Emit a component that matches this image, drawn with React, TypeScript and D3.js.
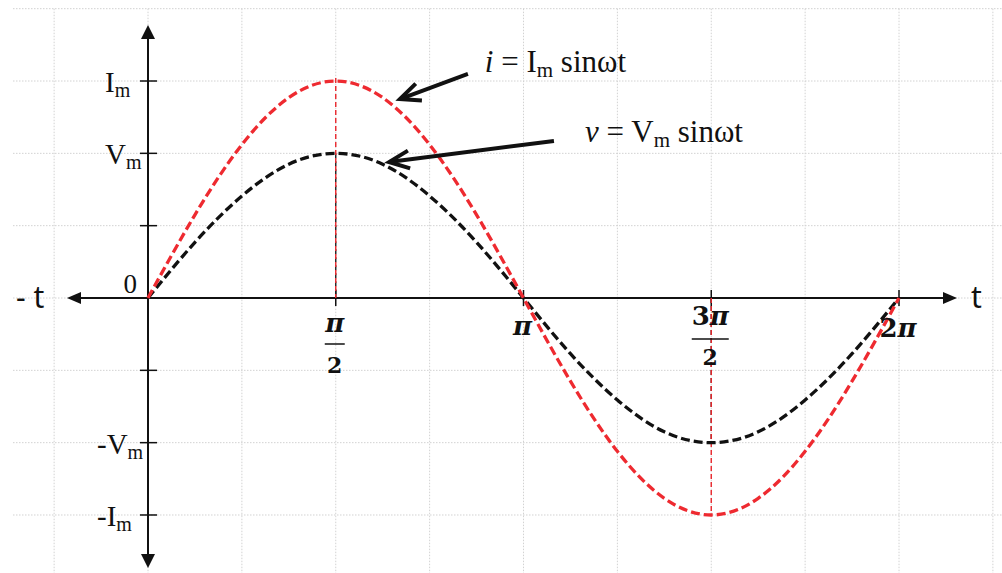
import React from "react";
import * as d3 from "d3";

// t in multiples of π
const T_SAMPLES = [0, 0.125, 0.25, 0.375, 0.5, 0.625, 0.75, 0.875, 1, 1.125, 1.25, 1.375, 1.5, 1.625, 1.75, 1.875, 2];
const CURRENT = [0, 1.15, 2.12, 2.77, 3, 2.77, 2.12, 1.15, 0, -1.15, -2.12, -2.77, -3, -2.77, -2.12, -1.15, 0];
const VOLTAGE = [0, 0.77, 1.41, 1.85, 2, 1.85, 1.41, 0.77, 0, -0.77, -1.41, -1.85, -2, -1.85, -1.41, -0.77, 0];

const Y_TICKS = [3, 2, 1, -1, -2, -3];
const Y_LABELS = ["I", "V", "", "", "-V", "-I"];
const X_TICKS = [0.5, 1, 1.5, 2];
const X_NUM = ["π", "π", "3π", "2π"];
const X_DEN = ["2", "", "2", ""];
const X_GRID = [-0.25, 0, 0.25, 0.5, 0.75, 1, 1.25, 1.5, 1.75, 2, 2.25];
const Y_GRID = [4, 3, 2, 1, 0, -1, -2, -3];

const W = 1002, H = 573;
const x = d3.scaleLinear().domain([0, 2]).range([148, 899]);
const y = d3.scaleLinear().domain([0, 1]).range([298, 225.67]);

const SERIF = "'Liberation Serif', 'DejaVu Serif', serif";
const MATH = "'DejaVu Serif', serif";
const SANS = "'Noto Sans', 'Open Sans', sans-serif";

function arrowHead(tx: number, ty: number, fx: number, fy: number, len = 22, ang = 24) {
  const a = Math.atan2(fy - ty, fx - tx);
  const r = (ang * Math.PI) / 180;
  const p1 = [tx + len * Math.cos(a - r), ty + len * Math.sin(a - r)];
  const p2 = [tx + len * Math.cos(a + r), ty + len * Math.sin(a + r)];
  return `M${p1[0]},${p1[1]}L${tx},${ty}L${p2[0]},${p2[1]}`;
}

const ANNOTATIONS = [
  { pre: "i", sym: "I", tt: 0.897, tu: 3.125, from: [0.852, 3.097], to: [0.671, 2.751] },
  { pre: "v", sym: "V", tt: 1.164, tu: 2.157, from: [1.081, 2.171], to: [0.642, 1.88] },
];

export default function App() {
  const line = d3
    .line<number>()
    .x((_, i) => x(T_SAMPLES[i]))
    .y((d) => y(d))
    .curve(d3.curveNatural);

  const x0 = x(0), y0 = y(0);
  const ink = "#111";

  return (
    <svg width={W} height={H} style={{ position: "absolute", left: 0, top: 0, background: "#fff" }}>
      {/* grid */}
      <g stroke="#d2d2d2" strokeWidth={1} strokeDasharray="1.5 1.5">
        {X_GRID.map((t) => (
          <line key={"gx" + t} x1={x(t)} x2={x(t)} y1={y(4)} y2={H} />
        ))}
        {Y_GRID.map((u) => (
          <line key={"gy" + u} x1={13} x2={W} y1={y(u)} y2={y(u)} />
        ))}
      </g>

      {/* axes */}
      <g stroke={ink} strokeWidth={2}>
        <line x1={x0} x2={x0} y1={36} y2={556} />
        <line x1={78} x2={946} y1={y0} y2={y0} />
        {Y_TICKS.map((u) => (
          <line key={"yt" + u} x1={x0 - 8} x2={x0 + 9} y1={y(u)} y2={y(u)} strokeWidth={1.5} />
        ))}
        {X_TICKS.map((t) => (
          <line key={"xt" + t} x1={x(t)} x2={x(t)} y1={y0 - 8} y2={y0 + 8} strokeWidth={1.5} />
        ))}
      </g>
      <g fill={ink}>
        <path d={`M${x0},25L${x0 - 7},39L${x0 + 7},39Z`} />
        <path d={`M${x0},568L${x0 - 7},554L${x0 + 7},554Z`} />
        <path d={`M67,${y0}L81,${y0 - 6}L81,${y0 + 6}Z`} />
        <path d={`M957,${y0}L943,${y0 - 6}L943,${y0 + 6}Z`} />
      </g>

      {/* guide lines */}
      <g strokeWidth={1.4} fill="none" strokeDasharray="5 3">
        <line x1={x(0.5)} x2={x(0.5)} y1={y(2)} y2={y0} stroke="#222" />
        <line x1={x(0.5)} x2={x(0.5)} y1={y(3.04)} y2={y0} stroke="#e8262c" />
        <line x1={x(1.5)} x2={x(1.5)} y1={y0} y2={y(-2)} stroke="#222" />
        <line x1={x(1.5)} x2={x(1.5)} y1={y0} y2={y(-3)} stroke="#e8262c" />
      </g>

      {/* curves */}
      <path d={line(VOLTAGE) || ""} fill="none" stroke="#111" strokeWidth={3.3} strokeDasharray="9 4" />
      <path d={line(CURRENT) || ""} fill="none" stroke="#ee2a30" strokeWidth={3.3} strokeDasharray="9 4" />

      {/* y labels */}
      <g fontFamily={SERIF} fill={ink}>
        {Y_TICKS.map((u, i) =>
          Y_LABELS[i] ? (
            <text key={"yl" + u} x={Y_LABELS[i].startsWith("-") ? 97 : 105} y={y(u) + 11} fontSize={29}>
              {Y_LABELS[i]}
              <tspan fontSize={20} dy={5}>m</tspan>
            </text>
          ) : null
        )}
        <text x={137} y={y0 - 5} fontSize={27} textAnchor="end">0</text>
      </g>

      {/* t labels */}
      <g fontFamily={SANS} fill={ink} fontSize={30}>
        <text x={16} y={y0 + 10}>- t</text>
        <text x={971} y={y0 + 10}>t</text>
      </g>

      {/* x labels */}
      <g fontFamily={MATH} fill={ink} fontWeight="bold" textAnchor="middle">
        {X_TICKS.map((t, i) => {
          const cx = x(t) - 1;
          if (X_DEN[i]) {
            const top = t === 0.5 ? 332 : 325;
            const bar = t === 0.5 ? 344 : 339;
            const bw = X_NUM[i].length > 1 ? 37 : 20;
            return (
              <g key={"xl" + t}>
                <text x={cx} y={top} fontSize={26}>
                  {X_NUM[i].length > 1 ? <tspan>{X_NUM[i][0]}</tspan> : null}
                  <tspan fontStyle="italic">π</tspan>
                </text>
                <line x1={cx - bw / 2} x2={cx + bw / 2} y1={bar} y2={bar} stroke={ink} strokeWidth={1.5} />
                <text x={cx} y={bar + (t === 0.5 ? 29 : 26)} fontSize={22}>{X_DEN[i]}</text>
              </g>
            );
          }
          return (
            <text key={"xl" + t} x={cx} y={t === 1 ? 335 : 337} fontSize={26}>
              {X_NUM[i].length > 1 ? <tspan>{X_NUM[i][0]}</tspan> : null}
              <tspan fontStyle="italic">π</tspan>
            </text>
          );
        })}
      </g>

      {/* annotations */}
      {ANNOTATIONS.map((a, i) => {
        const fx = x(a.from[0]), fy = y(a.from[1]);
        const tx = x(a.to[0]), ty = y(a.to[1]);
        return (
          <g key={"an" + i}>
            <line x1={fx} y1={fy} x2={tx} y2={ty} stroke={ink} strokeWidth={4} />
            <path d={arrowHead(tx, ty, fx, fy)} fill="none" stroke={ink} strokeWidth={4} strokeLinejoin="miter" />
            <text x={x(a.tt)} y={y(a.tu)} fontFamily={SERIF} fontSize={31} fill={ink}>
              <tspan fontStyle="italic">{a.pre}</tspan>
              {" = " + a.sym}
              <tspan fontSize={21} dy={5}>m</tspan>
              <tspan dy={-5}>{" sinωt"}</tspan>
            </text>
          </g>
        );
      })}
    </svg>
  );
}
